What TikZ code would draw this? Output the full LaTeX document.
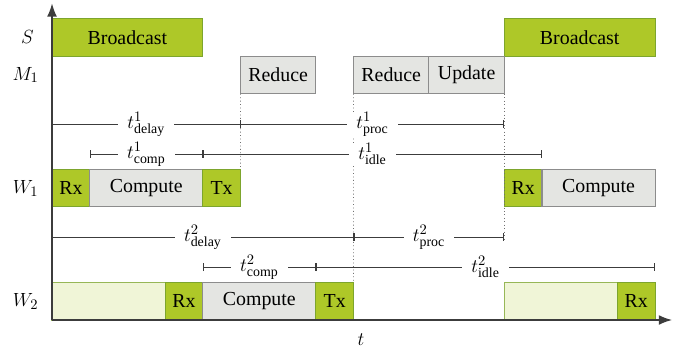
\documentclass[tikz,border=0pt]{standalone}
\usepackage{fontspec}
\setmainfont{Liberation Serif}
\usepackage{tikz}
\usepackage{xcolor}
\usetikzlibrary{arrows.meta, positioning, calc}
\definecolor{cGrn}{RGB}{174,200,40}
\definecolor{cGrnD}{RGB}{125,165,45}
\definecolor{cGrnL}{RGB}{240,245,215}
\definecolor{cGry}{RGB}{228,229,226}
\definecolor{cGryD}{RGB}{140,140,140}
\definecolor{cAxis}{RGB}{60,60,60}
\tikzset{
	slot/.style     ={rectangle, anchor=south west, minimum height=1cm, inner sep=0pt, outer sep=0pt, line width=0.8pt},
	comm/.style     ={slot, draw=cGrnD, fill=cGrn},
	work/.style     ={slot, draw=cGryD, fill=cGry},
	wait/.style     ={slot, draw=cGrnD!80, fill=cGrnL},
	% interval bars
	span/.style     ={{Bar[width=2mm]}-{Bar[width=2mm]}, line width=0.7pt, draw=cAxis},
	spanlbl/.style  ={fill=white, inner xsep=7pt, inner ysep=0pt},
	guide/.style    ={dotted, line width=0.6pt, draw=cGryD!80!black},
	axis/.style     ={-{Latex[length=3.5mm, width=2.6mm]}, line width=1pt, draw=cAxis},
}
\newcommand{\tspan}[4]{%
	\draw[span] (#1,#3) -- node[spanlbl] {#4} (#2,#3);}

\begin{document}
\begin{tikzpicture}[font=\fontsize{15}{18}\selectfont]
	\useasboundingbox (-1.38,-0.85) rectangle (16.82,8.49);
	% ---------------- S ----------------
	\node[comm, minimum width=4cm] (bcA) at (0,7) {Broadcast};
	\node[comm, minimum width=4cm] (bcB) at (12,7) {Broadcast};
	% ---------------- M_1 ----------------
	\node[work, minimum width=2cm] (redA) at (5,6) {Reduce};
	\node[work, minimum width=2cm] (redB) at (8,6) {Reduce};
	\node[work, minimum width=2cm] (upd) at (10,6) {Update};
	% ---------------- W_1 ----------------
	\node[comm, minimum width=1cm] (rxA) at (0,3) {Rx};
	\node[work, minimum width=3cm] (cmpA) at (1,3) {Compute};
	\node[comm, minimum width=1cm] (txA) at (4,3) {Tx};
	\node[comm, minimum width=1cm] (rxB) at (12,3) {Rx};
	\node[work, minimum width=3cm] (cmpB) at (13,3) {Compute};
	% ---------------- W_2 ----------------
	\node[wait, minimum width=3cm] (idleA) at (0,0) {};
	\node[comm, minimum width=1cm] (rxC) at (3,0) {Rx};
	\node[work, minimum width=3cm] (cmpC) at (4,0) {Compute};
	\node[comm, minimum width=1cm] (txC) at (7,0) {Tx};
	\node[wait, minimum width=3cm] (idleB) at (12,0) {};
	\node[comm, minimum width=1cm] (rxD) at (15,0) {Rx};
	% ---------------- guides ----------------
	\coordinate (endB) at (12,2.12);
	\draw[guide] (redA.south west) -- (txA.north east);
	\draw[guide] (redB.south west) -- (txC.north east);
	\draw[guide] (upd.south east) -- (endB);
	% ---------------- intervals ----------------
	\tspan{0}{5}{5.2}{$t^1_{\mathrm{delay}}$}
	\tspan{5}{12}{5.2}{$t^1_{\mathrm{proc}}$}
	\tspan{1}{4}{4.4}{$t^1_{\mathrm{comp}}$}
	\tspan{4}{13}{4.4}{$t^1_{\mathrm{idle}}$}
	\tspan{0}{8}{2.2}{$t^2_{\mathrm{delay}}$}
	\tspan{8}{12}{2.2}{$t^2_{\mathrm{proc}}$}
	\tspan{4}{7}{1.4}{$t^2_{\mathrm{comp}}$}
	\tspan{7}{16}{1.4}{$t^2_{\mathrm{idle}}$}
	% ---------------- axes ----------------
	\coordinate (orig) at (0,0);
	\coordinate (tEnd) at (16.45,0);
	\coordinate (yEnd) at (0,8.4);
	\draw[axis] (orig) -- (tEnd);
	\draw[axis] (orig) -- (yEnd);
	\node (tLbl) at (8.2,-0.53) {$t$};
	\node (sLbl) at (-0.65,7.5) {$S$};
	\node (mLbl) at (-0.7,6.5) {$M_1$};
	\node (wLblA) at (-0.7,3.5) {$W_1$};
	\node (wLblB) at (-0.7,0.5) {$W_2$};
\end{tikzpicture}
\end{document}
